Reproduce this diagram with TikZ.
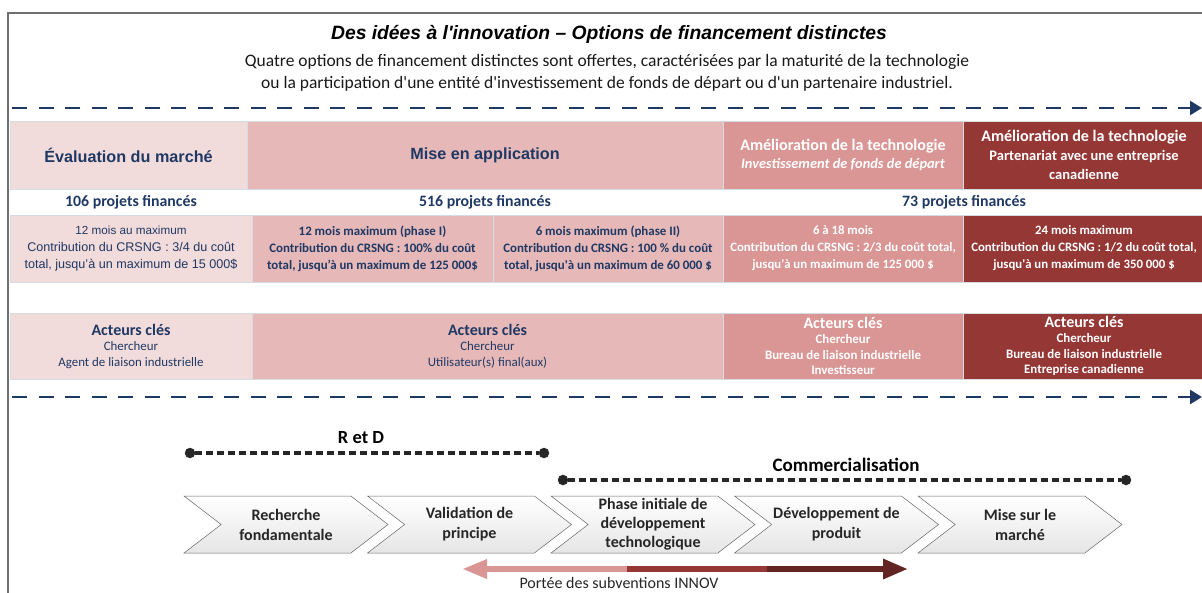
\documentclass[tikz,border=0pt]{standalone}
\usepackage{fontspec}
\setmainfont{Carlito}[Ligatures=TeXOff]
\newfontfamily\arialfont{Liberation Sans}
\usetikzlibrary{shapes.symbols,arrows.meta}
\definecolor{navy}{HTML}{1F3864}
\definecolor{roseA}{HTML}{F2DCDB}
\definecolor{roseB}{HTML}{E6B9B8}
\definecolor{roseC}{HTML}{D99694}
\definecolor{rouge}{HTML}{953735}
\definecolor{bordeaux}{HTML}{632523}
\definecolor{sep}{HTML}{D6DCE5}
\definecolor{cadregris}{HTML}{707070}
\definecolor{pointgris}{HTML}{262626}
\newcommand{\fsz}[2]{\fontsize{#1}{#2}\selectfont}

\begin{document}
\begin{tikzpicture}[x=1pt,y=-1pt]
    \tikzstyle{cell}=[draw=sep, line width=0.8pt, inner sep=2pt, outer sep=0pt, anchor=north west, align=center, text=navy]
    \tikzstyle{dasharrow}=[draw=navy, line width=2.5pt, dash pattern=on 15pt off 11.5pt, -{Triangle[length=12pt,width=14pt]}]
    \tikzstyle{point}=[circle, fill=pointgris, minimum size=10.5pt, inner sep=0pt]
    \tikzstyle{pointille}=[draw=pointgris, line width=3.2pt, dash pattern=on 7pt off 4pt]
    \tikzstyle{chevron}=[signal, signal to=east, signal from=west, signal pointer angle=75, draw=gray!80!black, line width=0.5pt, top color=white, bottom color=gray!20, minimum width=204pt, minimum height=57pt, inner sep=0.5pt, align=center, font=\fsz{16}{20}\bfseries, text=black!85]
    \tikzstyle{projets}=[font=\fsz{15.8}{18}\bfseries, text=navy]
    \useasboundingbox (0,0) rectangle (1202,592);
    % cadre
    \draw[cadregris, line width=2.5pt] (8,600) -- (8,13) -- (1210,13);
    % titre
    \node[font=\arialfont\fsz{19.3}{22}\bfseries\itshape] (titre) at (609,34) {Des idées à l'innovation – Options de financement distinctes};
    \node[font=\fsz{17.5}{22}, align=center, text=black!90] (soustitre) at (607,73) {Quatre options de financement distinctes sont offertes, caractérisées par la maturité de la technologie\\ou la participation d'une entité d'investissement de fonds de départ ou d'un partenaire industriel.};
    \coordinate (flA) at (12,108);
    \coordinate (flB) at (1202,108);
    \draw[dasharrow] (flA) -- (flB);
    % options
    \node[cell, fill=roseA, minimum width=237pt, minimum height=68pt, font=\arialfont\fsz{16.2}{18}\bfseries] (opEval) at (10,121) {Évaluation du marché};
    \node[cell, fill=roseB, minimum width=476pt, minimum height=68pt, font=\arialfont\fsz{16.2}{18}\bfseries] (opMise) at (247,121) {Mise en application};
    \node[cell, fill=roseC, minimum width=240pt, minimum height=68pt, text=white, font=\fsz{14.4}{18.5}\bfseries] (opFonds) at (723,121) {{\fsz{16.1}{18.5}Amélioration de la technologie}\\\textit{Investissement de fonds de départ}};
    \node[cell, fill=rouge, minimum width=242pt, minimum height=68pt, text=white, font=\fsz{14.5}{19}\bfseries] (opPart) at (963,121) {{\fsz{16.1}{18.5}Amélioration de la technologie}\\Partenariat avec une entreprise\\canadienne};
    % projets
    \node[projets] (nbEval) at (131,202) {106 projets financés};
    \node[projets] (nbMise) at (485,202) {516 projets financés};
    \node[projets] (nbTech) at (964,202) {73 projets financés};
    % conditions
    \node[cell, fill=roseA, minimum width=242pt, minimum height=67pt, font=\arialfont\fsz{12.6}{17}] (cdEval) at (10,215) {{\fsz{11.7}{17}12 mois au maximum}\\Contribution du CRSNG : 3/4 du coût\\total, jusqu’à un maximum de 15 000\$};
    \node[cell, fill=roseB, minimum width=241pt, minimum height=67pt, font=\fsz{12.9}{17}\bfseries] (cdPhI) at (252,215) {12 mois maximum (phase I)\\Contribution du CRSNG : 100\% du coût\\total, jusqu’à un maximum de 125 000\$};
    \node[cell, fill=roseB, minimum width=230pt, minimum height=67pt, font=\fsz{12.9}{17}\bfseries] (cdPhII) at (493,215) {6 mois maximum (phase II)\\Contribution du CRSNG : 100 \% du coût\\total, jusqu'à un maximum de 60 000 \$};
    \node[cell, fill=roseC, minimum width=240pt, minimum height=67pt, text=white, font=\fsz{12.8}{17}\bfseries] (cdFonds) at (723,215) {6 à 18 mois\\Contribution du CRSNG : 2/3 du coût total,\\jusqu'à un maximum de 125 000 \$};
    \node[cell, fill=rouge, minimum width=242pt, minimum height=67pt, text=white, font=\fsz{12.8}{17}\bfseries] (cdPart) at (963,215) {24 mois maximum\\Contribution du CRSNG : 1/2 du coût total,\\jusqu'à un maximum de 350 000 \$};
    % acteurs
    \node[cell, fill=roseA, minimum width=242pt, minimum height=66pt, font=\fsz{12.9}{15.5}] (acEval) at (10,313) {{\fsz{16}{17}\bfseries Acteurs clés}\\Chercheur\\Agent de liaison industrielle};
    \node[cell, fill=roseB, minimum width=471pt, minimum height=66pt, font=\fsz{12.9}{15.5}] (acMise) at (252,313) {{\fsz{16}{17}\bfseries Acteurs clés}\\Chercheur\\Utilisateur(s) final(aux)};
    \node[cell, fill=roseC, minimum width=240pt, minimum height=66pt, text=white, font=\fsz{12.9}{15.5}\bfseries] (acFonds) at (723,313) {{\fsz{16}{17}Acteurs clés}\\Chercheur\\Bureau de liaison industrielle\\Investisseur};
    \node[cell, fill=rouge, minimum width=242pt, minimum height=66pt, text=white, font=\fsz{12.9}{15.5}\bfseries] (acPart) at (963,313) {{\fsz{16}{17}Acteurs clés}\\Chercheur\\Bureau de liaison industrielle\\Entreprise canadienne};
    \coordinate (flC) at (12,397);
    \coordinate (flD) at (1202,397);
    \draw[dasharrow] (flC) -- (flD);
    % phases
    \node[point] (rdA) at (190,453) {};
    \node[point] (rdB) at (544,453) {};
    \draw[pointille] (rdA) -- (rdB);
    \node[font=\fsz{18.5}{20}\bfseries] (rd) at (361,438) {R et D};
    \node[point] (coA) at (563,480) {};
    \node[point] (coB) at (1126,480) {};
    \draw[pointille] (coA) -- (coB);
    \node[font=\fsz{19}{21}\bfseries] (co) at (846,465) {Commercialisation};
    % chaine de valeur
    \node[chevron] (chRech) at (286,524.5) {Recherche\\fondamentale};
    \node[chevron] (chValid) at (469.5,524.5) {Validation de\\principe};
    \node[chevron, font=\fsz{16}{19}\bfseries] (chPhase) at (653,524.5) {Phase initiale de\\développement\\technologique};
    \node[chevron] (chDev) at (836.5,524.5) {Développement de\\produit};
    \node[chevron] (chMarche) at (1020,524.5) {Mise sur le\\marché};
    % portee
    \coordinate (poMil) at (627,569);
    \coordinate (poG) at (462,569);
    \coordinate (poR) at (767,569);
    \coordinate (poD) at (908,569);
    \draw[roseC, line width=6pt, -{Triangle[length=25pt,width=18pt]}] (poMil) -- (poG);
    \draw[rouge, line width=6pt] (poMil) -- (poR);
    \draw[bordeaux, line width=6pt, -{Triangle[length=25pt,width=19pt]}] (poR) -- (poD);
    \node[font=\fsz{16}{18}, text=black!85, inner sep=1pt] (po) at (619,583) {Portée des subventions INNOV};
\end{tikzpicture}
\end{document}
